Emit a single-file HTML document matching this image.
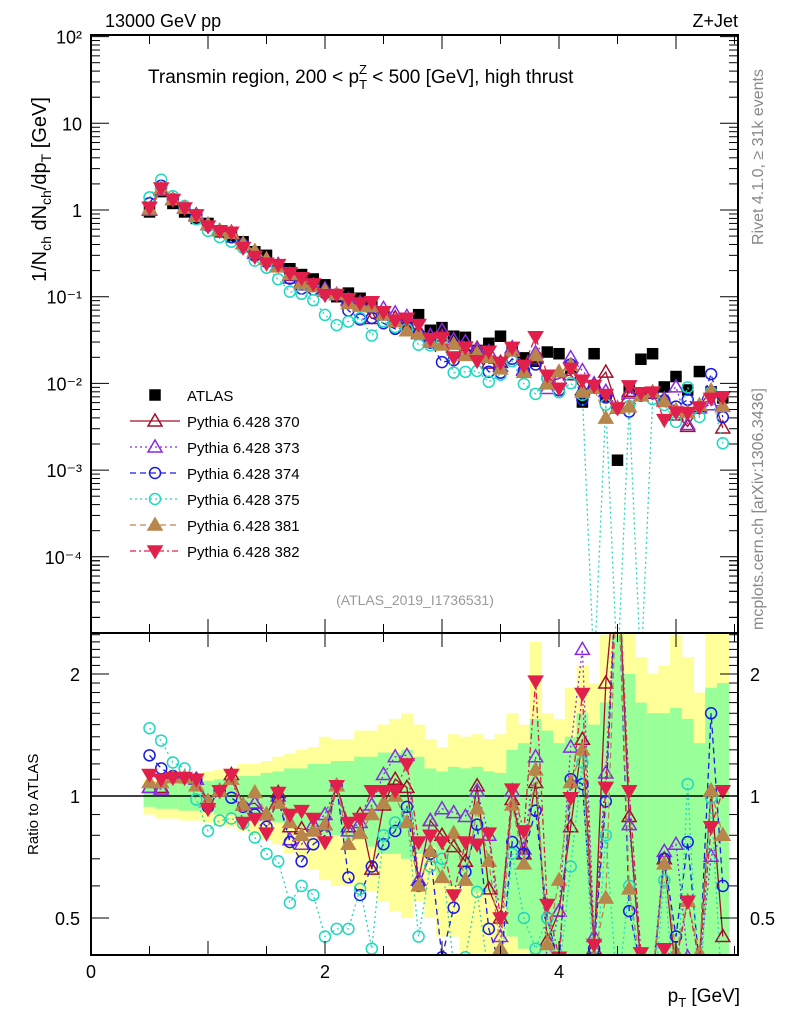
<!DOCTYPE html>
<html><head><meta charset="utf-8">
<style>
html,body{margin:0;padding:0;background:#fff;}
svg{display:block;font-family:"Liberation Sans",Arial,sans-serif;}
</style></head>
<body>
<svg id="chart" width="786" height="1024" viewBox="0 0 786 1024" xmlns="http://www.w3.org/2000/svg">
<rect x="0" y="0" width="786" height="1024" fill="#fff"/>
<g id="bands"></g>
<g id="marks"></g>
<g id="axes"></g>
<text x="105" y="27" font-size="18">13000 GeV pp</text>
<text x="738" y="27" font-size="18" text-anchor="end">Z+Jet</text>
<text x="148" y="83" font-size="19">Transmin region, 200 &lt; p<tspan font-size="13" dy="6">T</tspan><tspan font-size="13" dx="-8" dy="-15">Z</tspan><tspan dy="9"> &lt; 500 [GeV], high thrust</tspan></text>
<text transform="translate(46,282) rotate(-90)" font-size="20">1/N<tspan font-size="14" dy="5">ch</tspan><tspan dy="-5"> dN</tspan><tspan font-size="14" dy="5">ch</tspan><tspan dy="-5">/dp</tspan><tspan font-size="14" dy="5">T</tspan><tspan dy="-5"> [GeV]</tspan></text>
<text transform="translate(763,245) rotate(-90)" font-size="16" fill="#888">Rivet 4.1.0, ≥ 31k events</text>
<text transform="translate(763,630) rotate(-90)" font-size="16" fill="#888">mcplots.cern.ch [arXiv:1306.3436]</text>
<text x="415" y="605" font-size="14" fill="#999" text-anchor="middle">(ATLAS_2019_I1736531)</text>
<text transform="translate(38,855) rotate(-90)" font-size="15">Ratio to ATLAS</text>
<text x="740" y="1002" font-size="19" text-anchor="end">p<tspan font-size="13" dy="5">T</tspan><tspan dy="-5"> [GeV]</tspan></text>
<g id="legend"></g>
</svg>
<script>
const bins = [0.5,0.6,0.7,0.8,0.9,1.0,1.1,1.2,1.3,1.4,1.5,1.6,1.7,1.8,1.9,2.0,2.1,2.2,2.3,2.4,2.5,2.6,2.7,2.8,2.9,3.0,3.1,3.2,3.3,3.4,3.5,3.6,3.7,3.8,3.9,4.0,4.1,4.2,4.3,4.4,4.5,4.6,4.7,4.8,4.9,5.0,5.1,5.2,5.3,5.4];
const atlas = [0.95,1.63,1.19,0.95,0.80,0.70,0.56,0.49,0.43,0.33,0.30,0.23,0.21,0.18,0.16,0.137,0.10,0.11,0.096,0.085,0.065,0.052,0.047,0.062,0.041,0.044,0.035,0.034,0.024,0.029,0.035,0.025,0.0197,0.018,0.023,0.022,0.015,0.0061,0.022,0.0071,0.0013,0.0091,0.019,0.022,0.0091,0.012,0.0084,0.0137,0.008,0.0068];
const r370 = [1.05,1.05,1.11,1.11,1.1,0.97,1.03,1.13,0.95,0.96,0.9,1.02,0.84,0.83,0.82,0.85,1.06,0.84,0.9,0.66,0.95,1.1,1.05,0.62,0.87,0.8,0.75,0.69,1.06,0.59,0.5,0.98,0.72,1.08,0.44,0.52,0.84,1.38,0.42,1.9,4.0,0.89,0.38,0.35,0.7,0.36,0.38,0.4,1.03,0.45];
const r373 = [1.05,1.04,1.11,1.11,1.1,0.97,1.03,1.1,0.95,0.96,0.9,1.0,0.78,0.76,0.85,0.9,1.06,0.82,0.86,0.95,1.13,1.25,1.26,0.62,0.87,0.93,0.91,0.89,1.03,0.8,0.45,1.03,0.74,1.25,0.38,0.52,1.32,2.3,0.45,1.14,4.0,0.85,0.38,0.36,0.73,0.76,0.4,0.38,0.71,0.8];
const r374 = [1.26,1.17,1.12,1.11,1.1,0.94,1.03,0.99,0.94,0.9,0.84,0.98,0.77,0.69,0.76,0.8,1.06,0.63,0.57,0.67,0.76,0.82,0.94,0.6,0.72,0.4,0.53,0.65,0.85,0.47,0.38,0.77,0.72,0.92,0.5,0.38,1.1,1.07,0.42,0.97,4.0,0.52,0.38,0.35,0.7,0.45,0.77,0.38,1.6,0.6];
const r375 = [1.47,1.37,1.21,1.17,0.98,0.82,0.87,0.88,0.855,0.79,0.72,0.69,0.545,0.6,0.57,0.45,0.47,0.47,0.59,0.42,0.8,0.86,0.9,0.45,0.67,0.7,0.38,0.4,0.58,0.36,0.36,0.72,0.5,0.42,0.5,0.36,0.67,1.21,0,0.8,0,0.6,0,0.3,0.62,0.3,1.07,0.3,0.99,0.3];
const r381 = [1.08,1.08,1.11,1.11,1.06,0.97,1.03,1.1,0.95,1.02,0.9,0.96,0.86,0.8,0.82,0.85,1.06,0.76,0.81,0.9,0.96,1.0,0.86,0.6,0.73,0.63,0.81,0.62,0.93,0.69,0.42,0.95,0.68,1.16,0.43,0.62,1.08,1.3,0.4,0.56,4.0,0.59,0.38,0.36,0.68,0.41,0.55,0.41,1.03,0.8];
const r382 = [1.13,1.1,1.11,1.11,1.1,0.93,1.03,1.13,0.86,0.88,0.81,1.02,0.9,0.92,0.88,0.77,1.06,0.86,0.88,1.03,1.03,1.03,1.2,0.77,0.8,0.77,0.57,0.77,0.76,0.81,0.5,1.04,0.82,1.92,0.54,0.4,0.99,1.79,0.43,1.05,4.0,1.03,0.41,0.36,0.42,0.39,0.55,0.39,0.84,1.03];
const greenHi = [1.06,1.07,1.07,1.08,1.08,1.09,1.1,1.1,1.12,1.12,1.14,1.15,1.17,1.17,1.2,1.2,1.22,1.22,1.25,1.25,1.28,1.28,1.3,1.25,1.17,1.15,1.18,1.17,1.18,1.15,1.14,1.3,1.35,1.55,1.45,1.35,1.4,1.6,1.5,1.7,2.5,2.0,1.7,1.6,1.6,1.65,1.55,1.35,1.85,1.9];
const greenLo = [0.94,0.93,0.93,0.92,0.92,0.91,0.9,0.9,0.88,0.88,0.87,0.86,0.84,0.84,0.82,0.8,0.8,0.78,0.78,0.75,0.72,0.72,0.7,0.72,0.75,0.62,0.6,0.6,0.58,0.58,0.55,0.45,0.42,0.4,0.3,0.3,0.3,0.3,0.3,0.3,0.3,0.3,0.3,0.3,0.3,0.3,0.3,0.3,0.3,0.3];
const yellowHi = [1.1,1.12,1.12,1.13,1.13,1.15,1.16,1.17,1.2,1.2,1.22,1.25,1.27,1.3,1.32,1.4,1.38,1.38,1.45,1.45,1.5,1.55,1.6,1.5,1.38,1.32,1.42,1.4,1.42,1.38,1.42,1.6,1.5,2.4,1.6,1.55,1.85,2.1,1.9,2.5,2.6,2.55,2.2,2.0,2.1,2.5,2.2,1.8,2.6,2.6];
const yellowLo = [0.9,0.88,0.88,0.87,0.87,0.86,0.85,0.84,0.82,0.8,0.78,0.76,0.72,0.7,0.66,0.62,0.6,0.6,0.58,0.58,0.55,0.52,0.5,0.55,0.5,0.45,0.45,0.4,0.4,0.4,0.3,0.3,0.3,0.3,0.3,0.3,0.3,0.3,0.3,0.3,0.3,0.3,0.3,0.3,0.3,0.3,0.3,0.3,0.3,0.3];
const xTicks = [0,2,4];
const yTickExp = [2,1,0,-1,-2,-3,-4];
const yTickLabels = ["10²","10","1","10⁻¹","10⁻²","10⁻³","10⁻⁴"];
const ratioTicks = [2,1,0.5];
const ratioTickLabels = ["2","1","0.5"];
const seriesNames = ["Pythia 6.428 370","Pythia 6.428 373","Pythia 6.428 374","Pythia 6.428 375","Pythia 6.428 381","Pythia 6.428 382"];

const NS="http://www.w3.org/2000/svg";
const X0=91,X1=738,Y0=35,YM=633,YB=955;
const sx=v=>X0+v*117;
const sy=v=>v>0?210-86.7*Math.log10(v):YM+40;
const sr=v=>v>0?796-122*Math.log2(v):YB+40;
const clampR=y=>Math.max(YM,Math.min(YB,y));
function mk(tag,attrs,parent){const e=document.createElementNS(NS,tag);for(const k in attrs)e.setAttribute(k,attrs[k]);parent.appendChild(e);return e;}
const gB=document.getElementById('bands'),gM=document.getElementById('marks'),gA=document.getElementById('axes'),gL=document.getElementById('legend');
const hw=0.05;
bins.forEach((b,i)=>{
  const y1=mk('rect',{x:sx(b-hw),width:117*0.1+0.5,y:clampR(sr(yellowHi[i])),height:clampR(sr(yellowLo[i]))-clampR(sr(yellowHi[i])),fill:'#ffff99'},gB);
  
  
  const g1=mk('rect',{x:sx(b-hw),width:117*0.1+0.5,y:clampR(sr(greenHi[i])),height:clampR(sr(greenLo[i]))-clampR(sr(greenHi[i])),fill:'#99ff99'},gB);
  
  
});
mk('line',{x1:X0,x2:X1,y1:sr(1),y2:sr(1),stroke:'#000','stroke-width':1.5},gB);
const styles=[
 {r:r370,c:'#a0102a',m:'tri',fill:false,dash:''},
 {r:r373,c:'#8a2be2',m:'tri',fill:false,dash:'2,3'},
 {r:r374,c:'#1a1ae6',m:'circ',fill:false,dash:'6,4'},
 {r:r375,c:'#20d8c0',m:'circ',fill:false,dash:'2,3'},
 {r:r381,c:'#b8864b',m:'tri',fill:true,dash:'6,4'},
 {r:r382,c:'#e0204a',m:'dtri',fill:true,dash:'6,3,2,3'}];
function marker(type,x,y,c,fill,parent){
  let e;
  if(type==='tri') e=mk('polygon',{points:`${x},${y-7} ${x-7},${y+5} ${x+7},${y+5}`},parent);
  else if(type==='dtri') e=mk('polygon',{points:`${x},${y+7} ${x-7},${y-5} ${x+7},${y-5}`},parent);
  else if(type==='circ') e=mk('circle',{cx:x,cy:y,r:5.5},parent);
  else e=mk('rect',{x:x-5,y:y-5,width:10,height:10},parent);
  e.setAttribute('fill',fill?c:'none');e.setAttribute('stroke',c);e.setAttribute('stroke-width',1.5);
  return e;
}
const clipM=mk('clipPath',{id:'cm'},gM);mk('rect',{x:X0,y:Y0,width:X1-X0,height:YM-Y0},clipM);
const clipR=mk('clipPath',{id:'cr'},gM);mk('rect',{x:X0,y:YM,width:X1-X0,height:YB-YM},clipR);
const gMain=mk('g',{'clip-path':'url(#cm)'},gM),gRat=mk('g',{'clip-path':'url(#cr)'},gM);
bins.forEach((b,i)=>{const e=marker('sq',sx(b),sy(atlas[i]),'#000',true,gMain);
  
  });
styles.forEach((s,k)=>{
  const mp=bins.map((b,i)=>`${sx(b)},${sy(atlas[i]*s.r[i])}`).join(' ');
  const l=mk('polyline',{points:mp,fill:'none',stroke:s.c,'stroke-width':1.3,'stroke-dasharray':s.dash},gMain);
  
  
  const rp=bins.map((b,i)=>`${sx(b)},${sr(s.r[i])}`).join(' ');
  const l2=mk('polyline',{points:rp,fill:'none',stroke:s.c,'stroke-width':1.3,'stroke-dasharray':s.dash},gRat);
  
  
  bins.forEach((b,i)=>{
    const v=atlas[i]*s.r[i];
    const e=marker(s.m,sx(b),sy(v),s.c,s.fill,gMain);
    
    
    const e2=marker(s.m,sx(b),sr(s.r[i]),s.c,s.fill,gRat);
    
    
  });
});
mk('rect',{x:X0,y:Y0,width:X1-X0,height:YM-Y0,fill:'none',stroke:'#000','stroke-width':2},gA);
mk('rect',{x:X0,y:YM,width:X1-X0,height:YB-YM,fill:'none',stroke:'#000','stroke-width':2},gA);
for(let v=0;v<=5.5;v+=0.5){const x=sx(v),L=(Math.abs(v-Math.round(v))<0.01)?14:9;
  mk('line',{x1:x,x2:x,y1:Y0,y2:Y0+L,stroke:'#000'},gA);mk('line',{x1:x,x2:x,y1:YM,y2:YM-L,stroke:'#000'},gA);
  mk('line',{x1:x,x2:x,y1:YM,y2:YM+L,stroke:'#000'},gA);mk('line',{x1:x,x2:x,y1:YB,y2:YB-L,stroke:'#000'},gA);}
xTicks.forEach(t=>{const e=mk('text',{x:sx(t),y:978,'font-size':18,'text-anchor':'middle'},gA);e.textContent=t;
  
  });
yTickExp.forEach((p,i)=>{const y=sy(Math.pow(10,p));
  mk('line',{x1:X0,x2:X0+18,y1:y,y2:y,stroke:'#000'},gA);mk('line',{x1:X1,x2:X1-18,y1:y,y2:y,stroke:'#000'},gA);
  const e=mk('text',{x:82,y:y+7,'font-size':18,'text-anchor':'end'},gA);e.textContent=yTickLabels[i];
  
  
  for(let m=2;m<=9;m++){const ym=sy(m*Math.pow(10,p-1));if(ym<Y0||ym>YM)continue;
    mk('line',{x1:X0,x2:X0+9,y1:ym,y2:ym,stroke:'#000'},gA);mk('line',{x1:X1,x2:X1-9,y1:ym,y2:ym,stroke:'#000'},gA);}
});
for(let m=2;m<=9;m++){const ym=sy(m*1e-5);if(ym<YM){mk('line',{x1:X0,x2:X0+9,y1:ym,y2:ym,stroke:'#000'},gA);mk('line',{x1:X1,x2:X1-9,y1:ym,y2:ym,stroke:'#000'},gA);}}
[0.4,0.5,0.6,0.7,0.8,0.9,1,1.1,1.2,1.3,1.4,1.5,1.6,1.7,1.8,1.9,2,2.1,2.2,2.3,2.4,2.5].forEach(v=>{const y=sr(v);if(y<YM||y>YB)return;
  const L=(v===0.5||v===1||v===2)?18:9;
  mk('line',{x1:X0,x2:X0+L,y1:y,y2:y,stroke:'#000'},gA);mk('line',{x1:X1,x2:X1-L,y1:y,y2:y,stroke:'#000'},gA);});
ratioTicks.forEach((t,i)=>{const y=sr(t);
  const a=mk('text',{x:80,y:y+7,'font-size':18,'text-anchor':'end'},gA);a.textContent=ratioTickLabels[i];
  
  
  const b=mk('text',{x:750,y:y+7,'font-size':18},gA);b.textContent=ratioTickLabels[i];
  
  });
const ly0=395,ldy=26;
marker('sq',155,ly0,'#000',true,gL);
const t0=mk('text',{x:187,y:ly0+6,'font-size':15},gL);t0.textContent='ATLAS';


styles.forEach((s,k)=>{const y=ly0+ldy*(k+1);
  mk('line',{x1:130,x2:180,y1:y,y2:y,stroke:s.c,'stroke-width':1.3,'stroke-dasharray':s.dash},gL);
  marker(s.m,155,y,s.c,s.fill,gL);
  const t=mk('text',{x:187,y:y+6,'font-size':15},gL);t.textContent=seriesNames[k];
  
  });
</script>
</body></html>
